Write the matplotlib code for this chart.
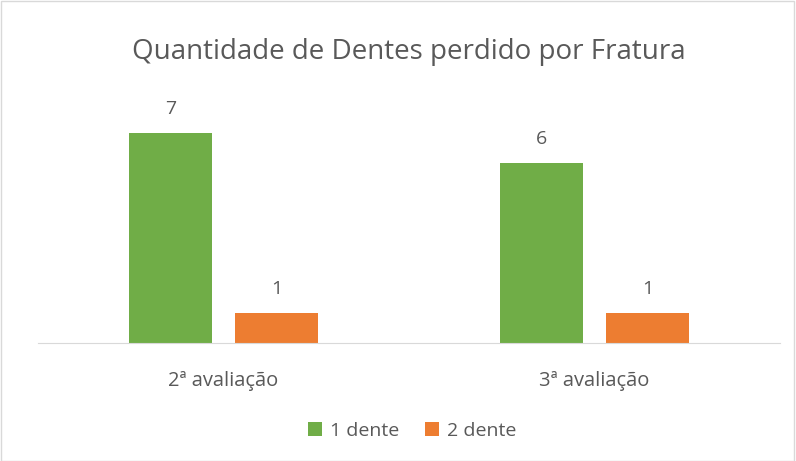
import matplotlib
matplotlib.use("Agg")
import matplotlib.pyplot as plt
import numpy as np
from matplotlib.patches import Rectangle

categories = ["2ª avaliação", "3ª avaliação"]
series_names = ["1 dente", "2 dente"]
values_1 = [7, 6]
values_2 = [1, 1]
colors = ["#70AD47", "#ED7D31"]
text_color = "#595959"

plt.rcParams['font.family'] = ['Open Sans', 'DejaVu Sans']

fig = plt.figure(figsize=(7.96, 4.61), dpi=100)
fig.patches.append(Rectangle((0.001, 0.001), 0.997, 0.997, transform=fig.transFigure,
                             fill=False, edgecolor="#D9D9D9", linewidth=1))
ax = fig.add_axes([0.0477, 0.256, 0.9323, 0.521])

x = np.arange(len(categories))
w = 0.224
off = 0.143
b1 = ax.bar(x - off, values_1, w, color=colors[0], label=series_names[0])
b2 = ax.bar(x + off, values_2, w, color=colors[1], label=series_names[1])
for bars, vals in ((b1, values_1), (b2, values_2)):
    for r, v in zip(bars, vals):
        ax.annotate(str(v), (r.get_x() + r.get_width() / 2, v), xytext=(0, 11),
                    textcoords="offset points", ha="center", va="bottom",
                    fontsize=14, color=text_color)

ax.set_xlim(-0.5, 1.5)
ax.set_ylim(0, 8)
ax.set_yticks([])
ax.set_xticks(x)
ax.set_xticklabels(categories, fontsize=14.5, color=text_color)
ax.tick_params(axis="x", length=0, pad=20)
for s in ("top", "right", "left"):
    ax.spines[s].set_visible(False)
ax.spines["bottom"].set_color("#D9D9D9")

fig.text(0.514, 0.887, "Quantidade de Dentes perdido por Fratura", ha="center", va="center",
         fontsize=20, color=text_color)

fig.legend(handles=[b1, b2], labels=series_names, loc="center", bbox_to_anchor=(0.518, 0.066),
           ncol=2, frameon=False, fontsize=14, labelcolor=text_color,
           handlelength=0.7, handleheight=0.7, columnspacing=1.3, handletextpad=0.45)

fig.savefig("out.png", dpi=100)
